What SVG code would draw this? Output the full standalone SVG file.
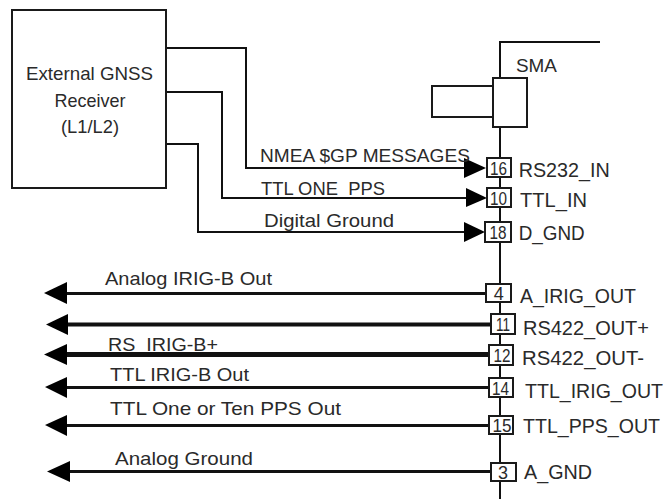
<svg xmlns="http://www.w3.org/2000/svg" width="664" height="499" viewBox="0 0 664 499">
<style>
text{font-family:"Liberation Sans",Arial,sans-serif;fill:#2a2a2a}
.box{fill:#fff;stroke:#1a1a1a;stroke-width:2}
.wire{fill:none;stroke:#111;stroke-width:2}
.ah{fill:#000;stroke:none}
.sig{font-size:19px}
.pin{font-size:18px;text-anchor:middle}
.pn{font-size:19.500px}
.ext{font-size:18.500px;text-anchor:middle}
.o{stroke:#111;fill:none}
</style>
<g id="connectors">
<path class="wire" d="M500 78V42H600"/>
<path class="wire" d="M500 126V499"/>
<path class="wire" d="M166 48H246V168H470"/>
<path class="wire" d="M166 92H222V198H470"/>
<path class="wire" d="M166 144H198V232H470"/>
<path class="ah" d="M486 168L464 158V178Z"/>
<path class="ah" d="M487 198L466 188V207Z"/>
<path class="ah" d="M485 232L464 222V242Z"/>
<path class="o" stroke-width="3" d="M60 293.500H487"/>
<path class="o" stroke-width="4" d="M60 324.500H491"/>
<path class="o" stroke-width="5" d="M60 354.500H489"/>
<path class="o" stroke-width="3" d="M60 387.500H489"/>
<path class="o" stroke-width="3" d="M60 425.500H489"/>
<path class="o" stroke-width="3" d="M60 471.500H491"/>
<path class="ah" d="M44 293L67 282V304Z"/>
<path class="ah" d="M46 324.500L68 314V335Z"/>
<path class="ah" d="M44 354.500L67 344V365Z"/>
<path class="ah" d="M45 387L67 377V398Z"/>
<path class="ah" d="M45 425L67 415V436Z"/>
<path class="ah" d="M47 471.500L70 461V482Z"/>
</g>
<g id="receiver"><rect class="box" x="12" y="10" width="154" height="178"/>
<text class="ext" x="89.500" y="80" textLength="127" lengthAdjust="spacingAndGlyphs">External GNSS</text><text class="ext" x="90" y="107" textLength="71" lengthAdjust="spacingAndGlyphs">Receiver</text><text class="ext" x="90" y="133" textLength="58" lengthAdjust="spacingAndGlyphs">(L1/L2)</text></g>
<g id="sma"><rect class="box" x="432" y="86" width="61" height="31"/><rect class="box" x="493" y="78" width="34" height="49"/><text class="sig" x="516" y="72" textLength="41" lengthAdjust="spacingAndGlyphs">SMA</text></g>
<g id="pin16"><rect class="box" x="487" y="158" width="24" height="19"/><text class="pin" x="498.500" y="175" textLength="17" lengthAdjust="spacingAndGlyphs">16</text><text class="pn" x="518.700" y="177" textLength="91" lengthAdjust="spacingAndGlyphs">RS232_IN</text></g>
<g id="pin10"><rect class="box" x="487" y="188" width="24" height="19"/><text class="pin" x="498.500" y="205" textLength="17" lengthAdjust="spacingAndGlyphs">10</text><text class="pn" x="520" y="207" textLength="67" lengthAdjust="spacingAndGlyphs">TTL_IN</text></g>
<g id="pin18"><rect class="box" x="485" y="222" width="26" height="20"/><text class="pin" x="498" y="238.500" textLength="17" lengthAdjust="spacingAndGlyphs">18</text><text class="pn" x="518.700" y="240" textLength="66" lengthAdjust="spacingAndGlyphs">D_GND</text></g>
<g id="pin4"><rect class="box" x="486" y="284" width="25" height="18"/><text class="pin" x="498.700" y="300">4</text><text class="pn" x="520" y="303" textLength="116" lengthAdjust="spacingAndGlyphs">A_IRIG_OUT</text></g>
<g id="pin11"><rect class="box" x="491" y="314" width="24" height="20"/><text class="pin" x="503" y="331" textLength="14" lengthAdjust="spacingAndGlyphs">11</text><text class="pn" x="523" y="335" textLength="126" lengthAdjust="spacingAndGlyphs">RS422_OUT+</text></g>
<g id="pin12"><rect class="box" x="489" y="345" width="24" height="20"/><text class="pin" x="502" y="361.500" textLength="17" lengthAdjust="spacingAndGlyphs">12</text><text class="pn" x="522" y="365" textLength="122" lengthAdjust="spacingAndGlyphs">RS422_OUT-</text></g>
<g id="pin14"><rect class="box" x="489" y="378" width="24" height="19"/><text class="pin" x="500.500" y="395" textLength="17" lengthAdjust="spacingAndGlyphs">14</text><text class="pn" x="525" y="398" textLength="138" lengthAdjust="spacingAndGlyphs">TTL_IRIG_OUT</text></g>
<g id="pin15"><rect class="box" x="489" y="416" width="24" height="18"/><text class="pin" x="502" y="432" textLength="19" lengthAdjust="spacingAndGlyphs">15</text><text class="pn" x="523" y="433" textLength="137" lengthAdjust="spacingAndGlyphs">TTL_PPS_OUT</text></g>
<g id="pin3"><rect class="box" x="491" y="463" width="25" height="18"/><text class="pin" x="503" y="479">3</text><text class="pn" x="524" y="479" textLength="68" lengthAdjust="spacingAndGlyphs">A_GND</text></g>
<g id="labels">
<text class="sig" x="260" y="161.500" textLength="210" lengthAdjust="spacingAndGlyphs">NMEA $GP MESSAGES</text>
<text class="sig" x="261" y="195" textLength="124" lengthAdjust="spacingAndGlyphs" xml:space="preserve">TTL ONE  PPS</text>
<text class="sig" x="264" y="226.500" textLength="130" lengthAdjust="spacingAndGlyphs">Digital Ground</text>
<text class="sig" x="105" y="285" textLength="167" lengthAdjust="spacingAndGlyphs">Analog IRIG-B Out</text>
<text class="sig" x="108" y="351" textLength="110" lengthAdjust="spacingAndGlyphs" xml:space="preserve">RS  IRIG-B+</text>
<text class="sig" x="110" y="381" textLength="139" lengthAdjust="spacingAndGlyphs">TTL IRIG-B Out</text>
<text class="sig" x="110" y="415" textLength="231" lengthAdjust="spacingAndGlyphs">TTL One or Ten PPS Out</text>
<text class="sig" x="115" y="465" textLength="138" lengthAdjust="spacingAndGlyphs">Analog Ground</text>
</g>
</svg>
